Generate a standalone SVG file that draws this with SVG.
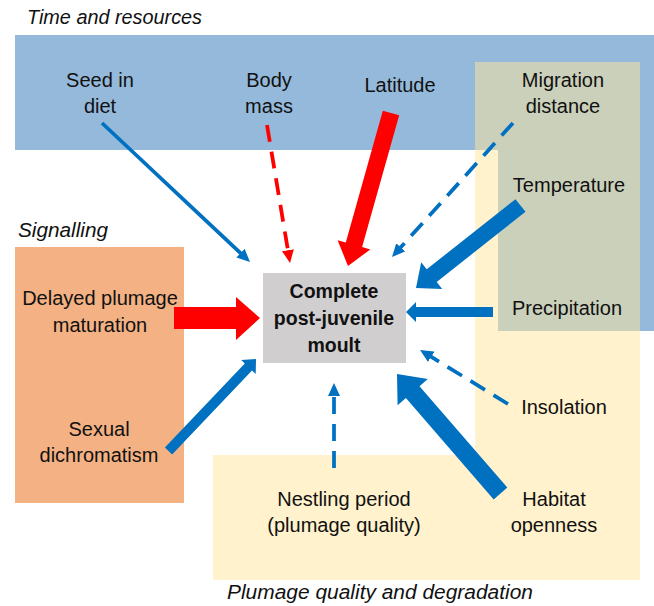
<svg xmlns="http://www.w3.org/2000/svg" width="654" height="606" viewBox="0 0 654 606">
  <defs>
    <style>
      .lbl { font-family: "Liberation Sans", Arial, sans-serif; font-size: 20px; fill: #111; text-anchor: middle; }
      .ttl { font-family: "Liberation Sans", Arial, sans-serif; font-size: 20px; font-style: italic; fill: #111; }
      .bold { font-family: "Liberation Sans", Arial, sans-serif; font-size: 19.5px; font-weight: bold; fill: #111; text-anchor: middle; }
      .thin { fill: none; stroke-width: 3.75; }
      .dash { stroke-dasharray: 17 10; }
      .blue { stroke: #0070C0; }
      .red { stroke: #FF0000; }
      .fblue { fill: #0070C0; }
      .fred { fill: #FF0000; }
    </style>
    <marker id="hb" markerUnits="userSpaceOnUse" markerWidth="14" markerHeight="13" refX="3" refY="6" orient="auto">
      <path d="M0,0 L13,6 L0,12 z" fill="#0070C0"/>
    </marker>
    <marker id="hr" markerUnits="userSpaceOnUse" markerWidth="14" markerHeight="13" refX="3" refY="6" orient="auto">
      <path d="M0,0 L13,6 L0,12 z" fill="#FF0000"/>
    </marker>
  </defs>

  <g id="regions">
    <polygon id="time-resources" points="15,35 654,35 654,331 498,331 498,150 15,150" fill="#95B9DB"/>
    <polygon id="plumage-quality" points="475,62 640,62 640,580 213,580 213,455 475,455" fill="#FFF2CC"/>
    <polygon id="overlap" points="475,62 640,62 640,331 498,331 498,150 475,150" fill="#CBD0BA"/>
    <rect id="signalling" x="15" y="247" width="169" height="256" fill="#F4B183"/>
  </g>

  <g id="titles">
    <text class="ttl" x="27" y="24" textLength="175" lengthAdjust="spacingAndGlyphs">Time and resources</text>
    <text class="ttl" x="18" y="237" textLength="90" lengthAdjust="spacingAndGlyphs">Signalling</text>
    <text class="ttl" x="227" y="599" textLength="306" lengthAdjust="spacingAndGlyphs">Plumage quality and degradation</text>
  </g>

  <g id="connectors">
    <line class="thin blue" x1="102" y1="123" x2="242.7" y2="255.2" marker-end="url(#hb)"/>
    <line class="thin red dash" x1="267" y1="125" x2="288.4" y2="253.1" marker-end="url(#hr)"/>
    <line class="thin blue dash" x1="513" y1="123" x2="398.7" y2="249.6" marker-end="url(#hb)"/>
    <line class="thin blue dash" x1="334" y1="468" x2="334" y2="393" marker-end="url(#hb)"/>
    <line class="thin blue dash" x1="508" y1="404" x2="428.6" y2="355.2" marker-end="url(#hb)"/>
    <polygon class="fred" points="382.8,110.7 399.2,115.3 362.1,247.1 370.3,249.4 348,266 337.6,240.2 345.8,242.5"/>
    <polygon class="fblue" points="515.5,199.2 525.5,211.8 436.7,281.9 442.2,289 416,288 421.2,262.3 426.7,269.3"/>
    <polygon class="fblue" points="493,307 493,317 416,317 416,322 406,312 416,302 416,307"/>
    <polygon class="fred" points="174,307 236,307 236,297 260,318 236,340 236,329 174,329"/>
    <polygon class="fblue" points="164.9,447.6 244.8,363.5 241.2,360.1 256,359 255.7,373.9 252,370.4 172.1,454.5"/>
    <polygon class="fblue" points="493.7,499.4 507.3,487.6 419.5,386.2 427.8,379 397,374 397.6,405.2 405.9,398"/>
  </g>

  <g id="moult">
    <rect x="263" y="273" width="143" height="90" fill="#D0CECE"/>
    <text class="bold" x="334" y="298">Complete</text>
    <text class="bold" x="334" y="325">post-juvenile</text>
    <text class="bold" x="334" y="352">moult</text>
  </g>
  <g id="seed"><text class="lbl" x="100" y="87">Seed in</text><text class="lbl" x="100" y="113">diet</text></g>
  <g id="body-mass"><text class="lbl" x="269" y="87">Body</text><text class="lbl" x="269" y="113">mass</text></g>
  <g id="latitude"><text class="lbl" x="400" y="92">Latitude</text></g>
  <g id="migration"><text class="lbl" x="563" y="87">Migration</text><text class="lbl" x="563" y="113">distance</text></g>
  <g id="temperature"><text class="lbl" x="569" y="192">Temperature</text></g>
  <g id="precipitation"><text class="lbl" x="567" y="315">Precipitation</text></g>
  <g id="insolation"><text class="lbl" x="564" y="414">Insolation</text></g>
  <g id="habitat"><text class="lbl" x="554" y="506">Habitat</text><text class="lbl" x="554" y="532">openness</text></g>
  <g id="nestling"><text class="lbl" x="344" y="506">Nestling period</text><text class="lbl" x="344" y="532">(plumage quality)</text></g>
  <g id="delayed"><text class="lbl" x="100" y="305">Delayed plumage</text><text class="lbl" x="100" y="332">maturation</text></g>
  <g id="dichromatism"><text class="lbl" x="99" y="436">Sexual</text><text class="lbl" x="99" y="462">dichromatism</text></g>
</svg>
